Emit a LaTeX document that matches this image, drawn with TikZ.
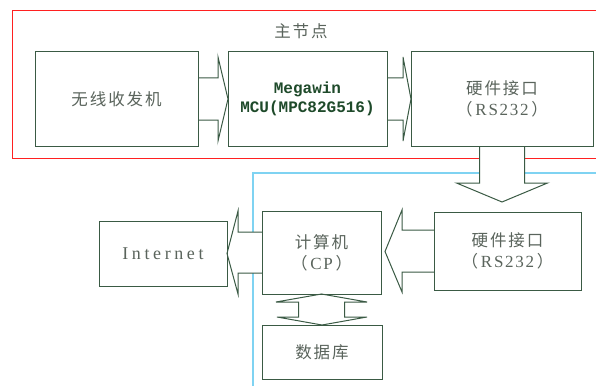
\documentclass[tikz,border=0pt]{standalone}
\usepackage{fontspec}
\setmainfont{Liberation Serif}
\newfontfamily\cjk[LetterSpace=12]{Noto Sans CJK SC}
\newfontfamily\latinsp[LetterSpace=10]{Liberation Serif}
\newfontfamily\latinwide[LetterSpace=20]{Liberation Serif}
\newfontfamily\mono{Liberation Mono}
\usetikzlibrary{calc}
\definecolor{boxc}{HTML}{3A5A44}
\definecolor{txt}{HTML}{5A645C}
\definecolor{mcu}{HTML}{1E4A2A}
\definecolor{redl}{HTML}{FF2020}
\definecolor{bluel}{HTML}{7FD3F2}
\tikzset{
  box/.style={draw=boxc, line width=1pt, fill=white, inner sep=0pt, outer sep=0pt,
    align=center, text=txt, font=\cjk\fontsize{16.5}{21}\selectfont},
  blk/.style={draw=boxc, line width=1pt, fill=white, line join=miter},
}
\newcommand{\rsx}[1]{（\,{\latinsp\fontsize{17}{21}\selectfont #1}\,）}
\begin{document}
\begin{tikzpicture}[x=1pt,y=-1pt]
\useasboundingbox (0,0) rectangle (596,385);
\clip (0,0) rectangle (596,385);
% group frames
\draw[redl, line width=0.8pt] (12,10) rectangle (620,158);
\draw[bluel, line width=1.6pt] (253,420) -- (253,173) -- (620,173);
\node[text=txt, font=\cjk\fontsize{16.5}{18}\selectfont] (title) at (301,31) {主节点};
% boxes
\node[box, minimum width=163, minimum height=94] (a) at (116.5,99) {无线收发机};
\node[box, minimum width=159, minimum height=94, font=\mono\bfseries\fontsize{16}{19}\selectfont, text=mcu] (b) at (307.5,99) {Megawin\\MCU(MPC82G516)};
\node[box, minimum width=182, minimum height=94] (c) at (502,99) {硬件接口\\\rsx{RS232}};
\node[box, minimum width=147, minimum height=78] (d) at (507.5,251) {硬件接口\\\rsx{RS232}};
\node[box, minimum width=119, minimum height=83] (e) at (321.5,252.5) {计算机\\\rsx{CP}};
\node[box, minimum width=128, minimum height=65, font=\latinwide\fontsize{18}{20}\selectfont] (f) at (163,253.5) {Internet};
\node[box, minimum width=120, minimum height=54] (g) at (322,352) {数据库};
% block arrows
\draw[blk] ($(a.east)+(0,-21)$) -- ($(b.west)+(-10,-21)$) -- ($(b.west)+(-10,-42)$) -- (b.west)
  -- ($(b.west)+(-10,42)$) -- ($(b.west)+(-10,21)$) -- ($(a.east)+(0,21)$);
\draw[blk] ($(b.east)+(0,-21)$) -- ($(c.west)+(-8,-21)$) -- ($(c.west)+(-8,-42)$) -- (c.west)
  -- ($(c.west)+(-8,42)$) -- ($(c.west)+(-8,21)$) -- ($(b.east)+(0,21)$);
\coordinate (ctip) at ($(c.south)+(0,56)$);
\draw[blk] ($(c.south)+(-22.5,0)$) -- ($(c.south)+(-22.5,37)$) -- ($(c.south)+(-45.5,37)$) -- (ctip)
  -- ($(c.south)+(45.5,37)$) -- ($(c.south)+(22.5,37)$) -- ($(c.south)+(22.5,0)$);
\coordinate (etip) at ($(e.east)+(4,-1)$);
\draw[blk] ($(d.west)+(0,-21)$) -- ($(d.west)+(-32,-21)$) -- ($(d.west)+(-32,-41)$) -- (etip)
  -- ($(d.west)+(-32,41)$) -- ($(d.west)+(-32,21)$) -- ($(d.west)+(0,21)$);
\draw[blk] ($(e.west)+(0,-20.5)$) -- ($(f.east)+(11,-21.5)$) -- ($(f.east)+(11,-42.5)$) -- (f.east)
  -- ($(f.east)+(11,40.5)$) -- ($(f.east)+(11,19.5)$) -- ($(e.west)+(0,20.5)$);
\draw[blk] (e.south) -- ($(e.south)+(45.5,8)$) -- ($(e.south)+(23,8)$) -- ($(g.north)+(22.5,-8)$)
  -- ($(g.north)+(45,-8)$) -- (g.north) -- ($(g.north)+(-45,-8)$) -- ($(g.north)+(-23.5,-8)$)
  -- ($(e.south)+(-23,8)$) -- ($(e.south)+(-45.5,8)$) -- cycle;
% redraw box borders over arrow ends
\foreach \n in {a,b,c,d,e,f,g} {\draw[boxc, line width=1pt] (\n.north west) rectangle (\n.south east);}
\end{tikzpicture}
\end{document}
